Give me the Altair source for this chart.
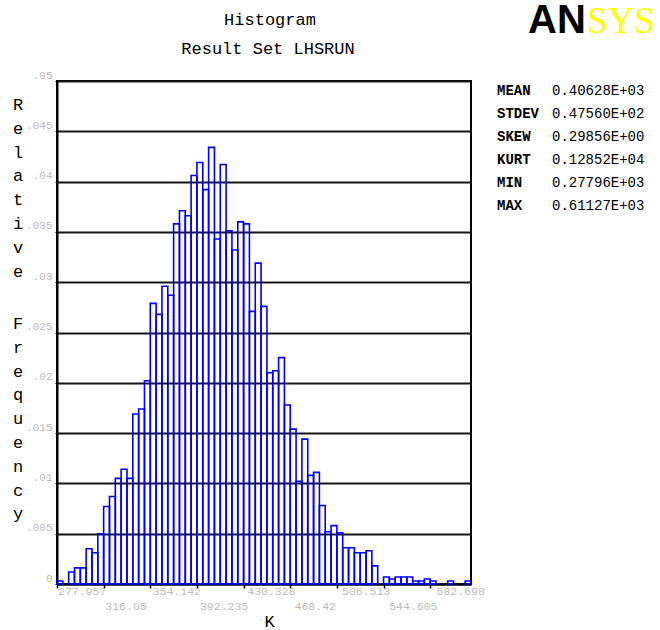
import altair as alt
import pandas as pd

# Summary statistics of the sampled response K
STAT_NAMES = ["MEAN", "STDEV", "SKEW", "KURT", "MIN", "MAX"]
STAT_VALUES = ["0.40628E+03", "0.47560E+02", "0.29856E+00",
               "0.12852E+04", "0.27796E+03", "0.61127E+03"]

# Histogram range (sample min / max) and relative frequency per bin
K_MIN = 277.957
K_MAX = 611.27
REL_FREQ = [
    0.0003, 0.0000, 0.0012, 0.0016, 0.0016, 0.0035, 0.0031, 0.0050, 0.0077, 0.0087,
    0.0105, 0.0114, 0.0105, 0.0169, 0.0174, 0.0202, 0.0279, 0.0268, 0.0296, 0.0287,
    0.0358, 0.0371, 0.0366, 0.0406, 0.0419, 0.0392, 0.0434, 0.0343, 0.0417, 0.0351,
    0.0332, 0.0360, 0.0358, 0.0271, 0.0319, 0.0276, 0.0210, 0.0212, 0.0225, 0.0178,
    0.0154, 0.0102, 0.0144, 0.0108, 0.0111, 0.0078, 0.0052, 0.0058, 0.0051, 0.0036,
    0.0036, 0.0031, 0.0031, 0.0033, 0.0018, 0.0000, 0.0007, 0.0005, 0.0007, 0.0007,
    0.0007, 0.0003, 0.0003, 0.0005, 0.0003, 0.0000, 0.0000, 0.0003, 0.0000, 0.0000,
    0.0003,
]

# Axis labels
X_TICK_TEXT = ["277.957", "316.05", "354.142", "392.235", "430.328",
               "468.42", "506.513", "544.605", "582.698"]
Y_TICKS = [0, 0.005, 0.01, 0.015, 0.02, 0.025, 0.03, 0.035, 0.04, 0.045, 0.05]
Y_TITLE_WORDS = ["Relative", "Frequency"]

MONO = "Liberation Mono"
LABEL_GREY = "#bcbcbc"
W, H = 414, 503

# bin table
n_bins = len(REL_FREQ)
step = (K_MAX - K_MIN) / n_bins
edges = [K_MIN + i * step for i in range(n_bins + 1)]
bars = pd.DataFrame({
    "lo": edges[:-1],
    "hi": edges[1:],
    "f": REL_FREQ,
    "base": [0.0] * n_bins,
})
bars = bars[bars["f"] > 0]

ticks = pd.DataFrame({
    "v": [float(s) for s in X_TICK_TEXT],
    "lab": X_TICK_TEXT,
    "row": [i % 2 for i in range(len(X_TICK_TEXT))],
})

x_scale = alt.Scale(domain=[K_MIN, K_MAX], nice=False, zero=False)
y_scale = alt.Scale(domain=[0, 0.05], nice=False)

x_axis = alt.Axis(
    values=edges, labels=False, grid=False,
    ticks=True, tickSize=4, tickWidth=1.5, tickColor="black",
    domainColor="black", domainWidth=2,
    title="K", titleFont=MONO, titleFontSize=17, titleFontWeight="normal",
    titleColor="black", titleX=212, titleY=37,
    titleAlign="center", titleBaseline="middle",
)
y_axis = alt.Axis(
    values=Y_TICKS, grid=True, gridColor="#161616", gridWidth=2,
    domainColor="black", domainWidth=2,
    ticks=True, tickSize=2, tickColor="black",
    labelExpr="datum.value == 0 ? '0' : replace(format(datum.value, '~g'), '0.', '.')",
    labelFont=MONO, labelFontSize=11, labelColor=LABEL_GREY,
    labelBaseline="bottom", labelPadding=3, labelOffset=-1,
    title="",
)

hist = alt.Chart(bars).mark_rect(
    stroke="#0000ff", strokeWidth=1.6, fillOpacity=0
).encode(
    x=alt.X("lo:Q", scale=x_scale, axis=x_axis),
    x2="hi:Q",
    y=alt.Y("f:Q", scale=y_scale, axis=y_axis),
    y2="base:Q",
)

# staggered x tick labels, left-aligned at their values
tick_base = alt.Chart(ticks).mark_text(
    align="left", baseline="middle", font=MONO, fontSize=11.5,
    color=LABEL_GREY, dx=1,
)
ticks_row0 = tick_base.transform_filter("datum.row == 0").encode(
    x=alt.X("v:Q", scale=x_scale), y=alt.value(H + 8), text="lab:N")
ticks_row1 = tick_base.transform_filter("datum.row == 1").encode(
    x=alt.X("v:Q", scale=x_scale), y=alt.value(H + 23), text="lab:N")

one = pd.DataFrame({"k": [0]})

# vertical y title: one letter per line, the two words stacked
y_title_mark = dict(font=MONO, fontSize=17, color="black", align="center",
                    baseline="middle", lineHeight=23.8)
y_title_top = alt.Chart(one).mark_text(**y_title_mark).encode(
    x=alt.value(-39), y=alt.value(24), text=alt.value(list(Y_TITLE_WORDS[0])))
y_title_bottom = alt.Chart(one).mark_text(**y_title_mark).encode(
    x=alt.value(-39), y=alt.value(243), text=alt.value(list(Y_TITLE_WORDS[1])))

title1 = alt.Chart(one).mark_text(
    font=MONO, fontSize=17, color="black", align="center", baseline="middle"
).encode(x=alt.value(213), y=alt.value(-61), text=alt.value("Histogram"))
title2 = alt.Chart(one).mark_text(
    font=MONO, fontSize=17, color="black", align="center", baseline="middle"
).encode(x=alt.value(211), y=alt.value(-32), text=alt.value("Result Set LHSRUN"))

stat_names = alt.Chart(one).mark_text(
    font=MONO, fontSize=14, fontWeight="bold", color="black",
    align="left", baseline="middle", lineHeight=23.1,
).encode(x=alt.value(440), y=alt.value(9.7), text=alt.value(STAT_NAMES))
stat_vals = alt.Chart(one).mark_text(
    font=MONO, fontSize=14, color="black",
    align="left", baseline="middle", lineHeight=23.1,
).encode(x=alt.value(495), y=alt.value(9.7), text=alt.value(STAT_VALUES))

logo_an = alt.Chart(one).mark_text(
    font="Liberation Sans", fontSize=40, fontWeight="bold", color="black",
    align="left", baseline="alphabetic",
).encode(x=alt.value(471), y=alt.value(-48), text=alt.value("AN"))
logo_sys = alt.Chart(one).mark_text(
    font="Liberation Serif", fontSize=37, color="#ffff00",
    align="left", baseline="alphabetic",
).encode(x=alt.value(530), y=alt.value(-48), text=alt.value("SYS"))

chart = alt.layer(
    hist, ticks_row0, ticks_row1, y_title_top, y_title_bottom, title1, title2,
    stat_names, stat_vals, logo_an, logo_sys,
).properties(
    width=W, height=H,
    padding={"left": 57, "top": 81, "right": 189, "bottom": 46},
    autosize=alt.AutoSizeParams(type="none"),
    background="white",
).configure_view(
    stroke="black", strokeWidth=2,
)

chart.save("out.html", embed_options={"renderer": "svg", "actions": False})
